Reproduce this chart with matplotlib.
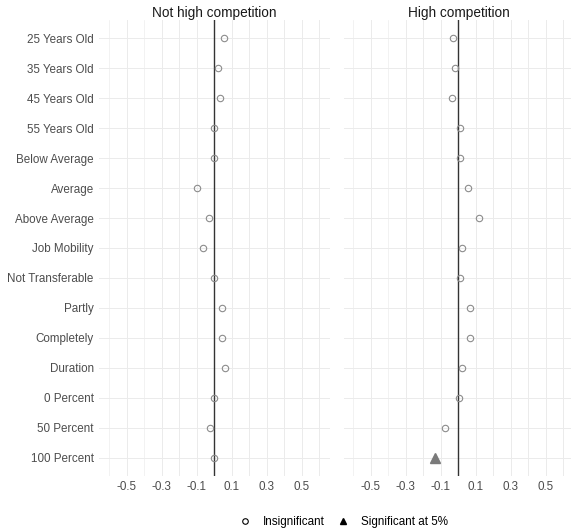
import matplotlib
matplotlib.use("Agg")
import matplotlib.pyplot as plt
from matplotlib.lines import Line2D
import numpy as np

plt.rcParams['font.family'] = ['Liberation Sans', 'DejaVu Sans']

categories = ["25 Years Old", "35 Years Old", "45 Years Old", "55 Years Old",
              "Below Average", "Average", "Above Average", "Job Mobility",
              "Not Transferable", "Partly", "Completely", "Duration",
              "0 Percent", "50 Percent", "100 Percent"]
panels = ["Not high competition", "High competition"]
not_high = [0.055, 0.025, 0.032, 0.0, 0.0, -0.099, -0.03, -0.065,
            0.0, 0.046, 0.046, 0.061, 0.0, -0.025, 0.0]
high = [-0.032, -0.017, -0.036, 0.008, 0.01, 0.054, 0.118, 0.02,
        0.008, 0.066, 0.068, 0.023, 0.006, -0.075, -0.133]
sig_not_high = [False] * 15
sig_high = [False] * 14 + [True]
xticks = [-0.5, -0.3, -0.1, 0.1, 0.3, 0.5]
xtick_labels = ["-0.5", "-0.3", "-0.1", "0.1", "0.3", "0.5"]
legend_labels = ["Insignificant", "Significant at 5%"]

W, H = 571, 530
fig = plt.figure(figsize=(W / 100, H / 100), dpi=100)
xlim = (-0.655, 0.66)
top_px, bot_px = 20.5, 475.5
panel_px = [(99.4, 329.5), (343.7, 573.8)]

grid_c = '#ebebeb'
n = len(categories)
ypos = np.arange(n)[::-1]

for i, (vals, sig, title) in enumerate(zip([not_high, high], [sig_not_high, sig_high], panels)):
    x0, x1 = panel_px[i]
    ax = fig.add_axes([x0 / W, 1 - bot_px / H, (x1 - x0) / W, (bot_px - top_px) / H])
    ax.set_xlim(*xlim)
    ax.set_ylim(-0.6, n - 1 + 0.6)
    for s in ax.spines.values():
        s.set_visible(False)
    # grid
    for gx in np.arange(-0.6, 0.61, 0.1):
        ax.axvline(gx, color=grid_c, lw=0.7 if abs((gx * 10) % 2) > 0.5 else 0.45, zorder=0)
    for gy in ypos:
        ax.axhline(gy, color=grid_c, lw=0.7, zorder=0)
    ax.axvline(0, color='#333333', lw=1.0, zorder=1)
    vals = np.array(vals)
    sig = np.array(sig)
    ax.plot(vals[~sig], ypos[~sig], 'o', mfc='none', mec='#8c8c8c', ms=4.6, mew=0.8, zorder=3)
    ax.plot(vals[sig], ypos[sig], '^', color='#7a7a7a', ms=6.5, zorder=3)
    ax.set_xticks(xticks)
    ax.set_xticklabels(xtick_labels)
    ax.set_yticks(ypos)
    if i == 0:
        ax.set_yticklabels(categories)
    else:
        ax.set_yticklabels([])
    ax.tick_params(axis='both', length=0, labelsize=8.4, labelcolor='#4d4d4d')
    ax.tick_params(axis='x', pad=4)
    ax.tick_params(axis='y', pad=4)
    ax.set_title(title, fontsize=9.8, color='#1a1a1a', pad=2)

handles = [Line2D([], [], marker='o', ls='none', mfc='none', mec='black', ms=4, mew=0.8),
           Line2D([], [], marker='^', ls='none', color='black', ms=4.5)]
fig.legend(handles, legend_labels, loc='center', ncol=2, frameon=False,
           bbox_to_anchor=(343 / W, 1 - 522 / H), fontsize=8.4,
           handletextpad=0.9, columnspacing=1.0, handlelength=1.2)

fig.savefig("out.png", dpi=100)
